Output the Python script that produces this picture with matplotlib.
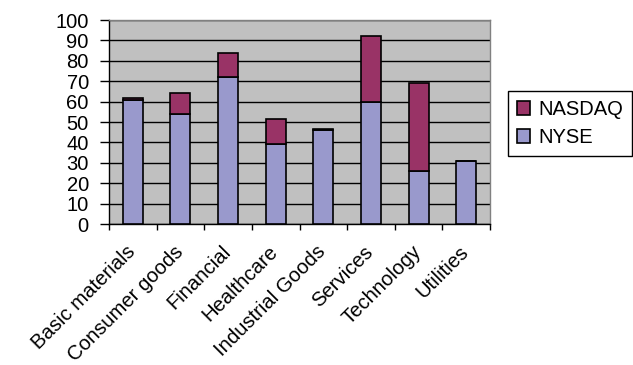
import numpy as np
import matplotlib
matplotlib.use("Agg")
import matplotlib.pyplot as plt

plt.rcParams['font.family'] = ['Liberation Sans', 'DejaVu Sans']

sectors = ["Basic materials", "Consumer goods", "Financial", "Healthcare",
           "Industrial Goods", "Services", "Technology", "Utilities"]
nyse = [61, 54, 72, 39, 46, 60, 26, 31]
nasdaq = [0.6, 10, 12, 12.5, 0.8, 32, 43, 0]

nyse_color = "#9999CC"
nasdaq_color = "#993366"

fig = plt.figure(figsize=(6.33, 3.65), dpi=100)
ax = fig.add_axes([109 / 633, 1 - 224 / 365, 381 / 633, 204 / 365])
ax.set_facecolor("#C0C0C0")

x = np.arange(len(sectors))
width = 0.42
b1 = ax.bar(x, nyse, width, color=nyse_color, edgecolor="black", linewidth=1.2,
            label="NYSE", zorder=3)
b2 = ax.bar(x, nasdaq, width, bottom=nyse, color=nasdaq_color, edgecolor="black",
            linewidth=1.2, label="NASDAQ", zorder=3)

ax.set_xlim(-0.5, len(sectors) - 0.5)
ax.set_ylim(0, 100)
ax.set_yticks(range(0, 101, 10))
ax.yaxis.grid(True, color="black", linewidth=1, zorder=1)
ax.set_axisbelow(True)

# category boundaries get the tick marks; rotated labels hang just left of each bar
ax.set_xticks(np.arange(-0.5, len(sectors), 1))
ax.set_xticklabels([])
ax.set_xticks(x - 0.15, minor=True)
ax.set_xticklabels(sectors, minor=True, rotation=45, ha="right",
                   rotation_mode="anchor", fontsize=14.6)
ax.tick_params(axis="x", which="minor", length=0, pad=13)
ax.tick_params(axis="x", which="major", direction="out", length=4.5, width=1)
ax.tick_params(axis="y", direction="out", length=6.5, width=1, labelsize=14.5, pad=8)

for side in ["top", "right"]:
    ax.spines[side].set_color("#808080")
    ax.spines[side].set_linewidth(1)
for side in ["left", "bottom"]:
    ax.spines[side].set_color("black")
    ax.spines[side].set_linewidth(1)

leg = fig.legend([b2, b1], ["NASDAQ", "NYSE"], loc="upper left",
                 bbox_to_anchor=(508 / 633, 1 - 91 / 365), fontsize=14.5,
                 fancybox=False, edgecolor="black", framealpha=1,
                 handlelength=0.65, handleheight=0.65, handletextpad=0.4,
                 labelspacing=0.45, borderpad=0.45, borderaxespad=0)
leg.get_frame().set_linewidth(1)

fig.savefig("out.png", dpi=100)
